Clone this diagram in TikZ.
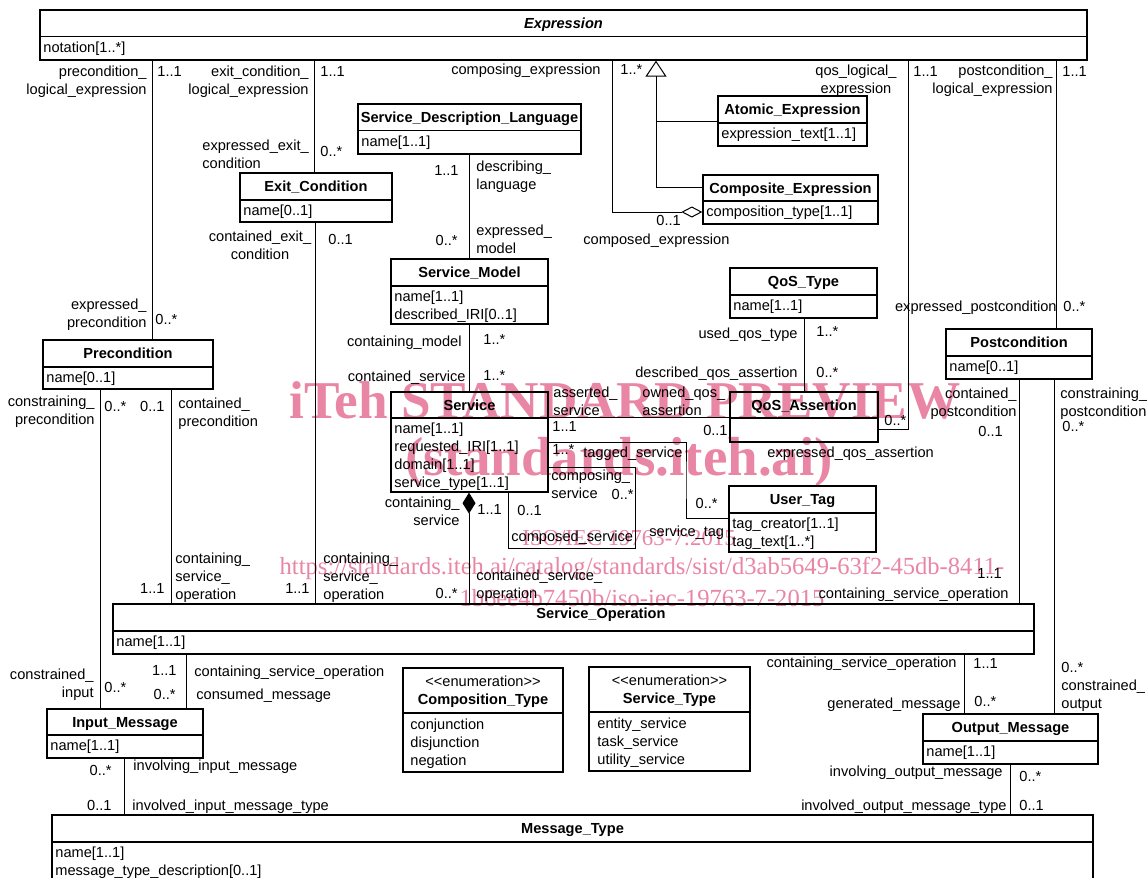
\documentclass[tikz,border=0pt]{standalone}
\usepackage{fontspec}
\setmainfont{Liberation Sans}
\newfontfamily\wmfont{Liberation Serif}
\usetikzlibrary{arrows.meta,fit}
\definecolor{wmpink}{RGB}{233,134,165}

\tikzset{
  cls/.style={draw, inner sep=0pt, line width=0.65pt},
  sep/.style={line width=0.65pt},
  ttl/.style={inner sep=0pt, anchor=base, font=\bfseries},
  att/.style={inner sep=0pt, anchor=north west, align=left},
  lw/.style={inner sep=0pt, anchor=north west, align=left},
  le/.style={inner sep=0pt, anchor=north east, align=right},
  lc/.style={inner sep=0pt, anchor=north, align=center},
  lnk/.style={line width=0.5pt},
  wm/.style={inner sep=0pt, text=wmpink},
}

\begin{document}
\begin{tikzpicture}[x=0.5pt, y=-0.5pt]
\fontsize{7.3}{8.9}\selectfont
\useasboundingbox (0,0) rectangle (1147,878);
\clip (0,0) rectangle (1147,878);
%\draw[help lines] (0,0) grid[step=50] (1147,878);

% watermark
\node[wm, font=\wmfont\bfseries\fontsize{26.6}{30}\selectfont] (wmA) at (625,400) {iTeh STANDARD PREVIEW};
\node[wm, font=\wmfont\bfseries\fontsize{27.5}{30}\selectfont] (wmB) at (619,462) {(standards.iteh.ai)};
\node[wm, font=\wmfont\fontsize{11.4}{13}\selectfont] (wmC) at (629,538) {ISO/IEC 19763-7:2015};
\node[wm, font=\wmfont\fontsize{12.3}{14}\selectfont] (wmD) at (642,568) {https://standards.iteh.ai/catalog/standards/sist/d3ab5649-63f2-45db-8411-};
\node[wm, font=\wmfont\fontsize{12.3}{14}\selectfont] (wmE) at (642,598) {1b6ee4b7450b/iso-iec-19763-7-2015};

% classes
\node[cls, fit={(40,10) (1087,60)}] (expr) {};
\draw[sep] (expr.west |- 0,36.5) -- (expr.east |- 0,36.5);
\node[ttl, font=\bfseries\itshape] (exprT) at (expr.north |- 0,28) {Expression};
\node[att] (exprA) at (43,41.5) {notation[1..*]};

\node[cls, fit={(358,104) (581,154)}] (sdl) {};
\draw[sep] (sdl.west |- 0,130.5) -- (sdl.east |- 0,130.5);
\node[ttl] (sdlT) at (sdl.north |- 0,122) {Service\_Description\_Language};
\node[att] (sdlA) at (361,135.5) {name[1..1]};

\node[cls, fit={(240,173) (392,222)}] (exitc) {};
\draw[sep] (exitc.west |- 0,200) -- (exitc.east |- 0,200);
\node[ttl] (exitcT) at (exitc.north |- 0,191) {Exit\_Condition};
\node[att] (exitcA) at (243,205) {name[0..1]};

\node[cls, fit={(718,96) (867,146)}] (atomic) {};
\draw[sep] (atomic.west |- 0,123) -- (atomic.east |- 0,123);
\node[ttl] (atomicT) at (atomic.north |- 0,114) {Atomic\_Expression};
\node[att] (atomicA) at (721,128) {expression\_text[1..1]};

\node[cls, fit={(703,175) (878,224)}] (compos) {};
\draw[sep] (compos.west |- 0,201) -- (compos.east |- 0,201);
\node[ttl] (composT) at (compos.north |- 0,193) {Composite\_Expression};
\node[att] (composA) at (706,206) {composition\_type[1..1]};

\node[cls, fit={(391,259) (548,324)}] (smodel) {};
\draw[sep] (smodel.west |- 0,286) -- (smodel.east |- 0,286);
\node[ttl] (smodelT) at (smodel.north |- 0,277) {Service\_Model};
\node[att] (smodelA) at (394,291) {name[1..1]\\described\_IRI[0..1]};

\node[cls, fit={(730,268) (877,318)}] (qostype) {};
\draw[sep] (qostype.west |- 0,295) -- (qostype.east |- 0,295);
\node[ttl] (qostypeT) at (qostype.north |- 0,286) {QoS\_Type};
\node[att] (qostypeA) at (733,300) {name[1..1]};

\node[cls, fit={(43,340) (213,389)}] (prec) {};
\draw[sep] (prec.west |- 0,367) -- (prec.east |- 0,367);
\node[ttl] (precT) at (prec.north |- 0,358) {Precondition};
\node[att] (precA) at (46,372) {name[0..1]};

\node[cls, fit={(946,329) (1092,379)}] (postc) {};
\draw[sep] (postc.west |- 0,356) -- (postc.east |- 0,356);
\node[ttl] (postcT) at (postc.north |- 0,347) {Postcondition};
\node[att] (postcA) at (949,361) {name[0..1]};

\node[cls, fit={(391,392) (548,492)}] (serv) {};
\draw[sep] (serv.west |- 0,418) -- (serv.east |- 0,418);
\node[ttl] (servT) at (serv.north |- 0,410) {Service};
\node[att] (servA) at (394,423) {name[1..1]\\requested\_IRI[1..1]\\domain[1..1]\\service\_type[1..1]};

\node[cls, fit={(730,392) (878,442)}] (qosa) {};
\draw[sep] (qosa.west |- 0,418) -- (qosa.east |- 0,418);
\node[ttl] (qosaT) at (qosa.north |- 0,410) {QoS\_Assertion};

\node[cls, fit={(729,486) (876,552)}] (utag) {};
\draw[sep] (utag.west |- 0,513) -- (utag.east |- 0,513);
\node[ttl] (utagT) at (utag.north |- 0,504) {User\_Tag};
\node[att] (utagA) at (732,518) {tag\_creator[1..1]\\tag\_text[1..*]};

\node[cls, fit={(113,604) (1034,654)}] (sop) {};
\draw[sep] (sop.west |- 0,631) -- (sop.east |- 0,631);
\node[ttl] (sopT) at (601,618) {Service\_Operation};
\node[att] (sopA) at (116,636) {name[1..1]};

\node[cls, fit={(47,709) (203,758)}] (inmsg) {};
\draw[sep] (inmsg.west |- 0,735) -- (inmsg.east |- 0,735);
\node[ttl] (inmsgT) at (inmsg.north |- 0,727) {Input\_Message};
\node[att] (inmsgA) at (50,740) {name[1..1]};

\node[cls, fit={(923,714) (1098,764)}] (outmsg) {};
\draw[sep] (outmsg.west |- 0,741) -- (outmsg.east |- 0,741);
\node[ttl] (outmsgT) at (outmsg.north |- 0,732) {Output\_Message};
\node[att] (outmsgA) at (926,746) {name[1..1]};

\node[cls, fit={(52,815) (1093,900)}] (mtype) {};
\draw[sep] (mtype.west |- 0,842) -- (mtype.east |- 0,842);
\node[ttl] (mtypeT) at (mtype.north |- 0,833.5) {Message\_Type};
\node[att] (mtypeA) at (55,847) {name[1..1]\\message\_type\_description[0..1]};

\node[cls, fit={(403,668) (563,772)}] (comptype) {};
\draw[sep] (comptype.west |- 0,713) -- (comptype.east |- 0,713);
\node[lc] (comptypeT) at (comptype.north |- 0,675.5) {<\kern0pt<enumeration>\kern0pt>\\\textbf{Composition\_Type}};
\node[att] (comptypeA) at (410,718.5) {conjunction\\disjunction\\negation};

\node[cls, fit={(589,667) (750,771)}] (servtype) {};
\draw[sep] (servtype.west |- 0,712) -- (servtype.east |- 0,712);
\node[lc] (servtypeT) at (servtype.north |- 0,674.5) {<\kern0pt<enumeration>\kern0pt>\\\textbf{Service\_Type}};
\node[att] (servtypeA) at (597,718) {entity\_service\\task\_service\\utility\_service};

% associations
\draw[lnk] (expr.south -| 152,0) -- (prec.north -| 152,0);
\node[le] (aR1) at (147,66) {precondition\_\\logical\_expression};
\node[lw] (aM1) at (157,66) {1..1};
\node[le] (aR2) at (147,298.5) {expressed\_\\precondition};
\node[lw] (aM2) at (155,314) {0..*};

\draw[lnk] (expr.south -| 314,0) -- (exitc.north -| 314,0);
\node[le] (bR1) at (309,66) {exit\_condition\_\\logical\_expression};
\node[lw] (bM1) at (320,66.5) {1..1};
\node[lw] (bR2) at (202,139.5) {expressed\_exit\_\\condition};
\node[lw] (bM2) at (320,146) {0..*};

\draw[lnk] (exitc.south -| 315,0) -- (sop.north -| 315,0);
\node[lc] (cR1) at (260,230.5) {contained\_exit\_\\condition};
\node[lw] (cM1) at (328,234) {0..1};
\node[lw] (cR2) at (323,553) {containing\_\\service\_\\operation};
\node[le] (cM2) at (310,583) {1..1};

\draw[lnk] (prec.south -| 171,0) -- (sop.north -| 171,0);
\node[le] (dM1) at (165,400.5) {0..1};
\node[lw] (dR1) at (178,398) {contained\_\\precondition};
\node[lw] (dR2) at (175,553) {containing\_\\service\_\\operation};
\node[le] (dM2) at (165,583) {1..1};

\draw[lnk] (prec.south -| 100,0) -- (inmsg.north -| 100,0);
\node[le] (eR1) at (95,396) {constraining\_\\precondition};
\node[lw] (eM1) at (104,400.5) {0..*};
\node[le] (eR2) at (94,669) {constrained\_\\input};
\node[lw] (eM2) at (104,682) {0..*};

\draw[lnk] (sop.south -| 186,0) -- (inmsg.north -| 186,0);
\node[le] (fM1) at (177,665) {1..1};
\node[lw] (fR1) at (194,665.5) {containing\_service\_operation};
\node[le] (fM2) at (176,688.5) {0..*};
\node[lw] (fR2) at (196,688.5) {consumed\_message};

\draw[lnk] (inmsg.south -| 124,0) -- (mtype.north -| 124,0);
\node[le] (gM1) at (112,765) {0..*};
\node[lw] (gR1) at (133,760) {involving\_input\_message};
\node[le] (gM2) at (112,800) {0..1};
\node[lw] (gR2) at (132,800) {involved\_input\_message\_type};

\draw[lnk] (sdl.south -| 469,0) -- (smodel.north -| 469,0);
\node[le] (hM1) at (459,165) {1..1};
\node[lw] (hR1) at (476,161) {describing\_\\language};
\node[le] (hM2) at (458,235) {0..*};
\node[lw] (hR2) at (476,224.5) {expressed\_\\model};

\draw[lnk] (smodel.south -| 469,0) -- (serv.north -| 469,0);
\node[le] (iR1) at (462,335.5) {containing\_model};
\node[lw] (iM1) at (483,334.5) {1..*};
\node[le] (iR2) at (466,371) {contained\_service};
\node[lw] (iM2) at (483,370.5) {1..*};

\draw[lnk, {Diamond[length=10.5pt,width=6.5pt]}-] (serv.south -| 469,0) -- (sop.north -| 469,0);
\node[le] (jR1) at (460,497) {containing\_\\service};
\node[lw] (jM1) at (477,504.5) {1..1};
\node[le] (jM2) at (458,588) {0..*};
\node[lw] (jR2) at (476,569.5) {contained\_service\_\\operation};

\draw[lnk, -{Diamond[open,length=10.5pt,width=5.5pt]}] (expr.south -| 612,0) |- (compos.west |- 0,212);
\node[le] (kR1) at (601,64) {composing\_expression};
\node[lw] (kM1) at (620,64.5) {1..*};
\node[lw] (kM2) at (656,214.5) {0..1};
\node[lw] (kR2) at (583,234) {composed\_expression};

% generalization
\draw[lnk, -{Triangle[open,length=8pt,width=10.5pt]}] (compos.west |- 0,187) -| (expr.south -| 656,0);
\coordinate (genJ) at (656,121);
\draw[lnk] (atomic.west |- 0,121) -- (genJ);

\draw[lnk] (expr.south -| 908,0) |- (qosa.east |- 0,429);
\node[lc] (mR1) at (856,64.5) {qos\_logical\_\\expression};
\node[lw] (mM1) at (913,66) {1..1};
\node[lw] (mM2) at (884,414.5) {0..*};
\node[lw] (mR2) at (767,447) {expressed\_qos\_assertion};

\draw[lnk] (qostype.south -| 804,0) -- (qosa.north -| 804,0);
\node[le] (nR1) at (798,328) {used\_qos\_type};
\node[lw] (nM1) at (816,326) {1..*};
\node[le] (nR2) at (798,367) {described\_qos\_assertion};
\node[lw] (nM2) at (816,367) {0..*};

\draw[lnk] (serv.east |- 0,417) -- (qosa.west |- 0,417);
\node[lw] (oR1) at (553,387) {asserted\_\\service};
\node[lw] (oM1) at (552,421) {1..1};
\node[lw] (oR2) at (642,387) {owned\_qos\_\\assertion};
\node[le] (oM2) at (728,425) {0..1};

\draw[lnk] (serv.east |- 0,442) -| (686,480) |- (utag.west |- 0,518);
\node[lw] (pM1) at (552,444.5) {1..*};
\node[lw] (pR1) at (583,447) {tagged\_service};
\node[le] (pM2) at (718,498) {0..*};
\node[lw] (pR2) at (649,526) {service\_tag};

\draw[lnk] (serv.east |- 0,467) -- (635,467) -- (635,548) -- (508,548) -- (serv.south -| 508,0);
\node[lw] (qR1) at (551,469.5) {composing\_\\service};
\node[le] (qM1) at (634,489) {0..*};
\node[lw] (qM2) at (517,504.5) {0..1};
\node[lw] (qR2) at (511,531) {composed\_service};

\draw[lnk] (expr.south -| 1056,0) -- (postc.north -| 1056,0);
\node[le] (rR1) at (1053,64.5) {postcondition\_\\logical\_expression};
\node[lw] (rM1) at (1062,66) {1..1};
\node[le] (rR2) at (1057,300.5) {expressed\_postcondition};
\node[lw] (rM2) at (1063,300.5) {0..*};

\draw[lnk] (postc.south -| 1019,0) -- (sop.north -| 1019,0);
\node[le] (sR1) at (1017,388) {contained\_\\postcondition};
\node[lw] (sM1) at (978,426) {0..1};
\node[lw] (sM2) at (977,568) {1..1};
\node[le] (sR2) at (1009,588) {containing\_service\_operation};

\draw[lnk] (postc.south -| 1054,0) -- (outmsg.north -| 1054,0);
\node[lw] (tR1) at (1060,388) {constraining\_\\postcondition};
\node[lw] (tM1) at (1062,421) {0..*};
\node[lw] (tM2) at (1061,662) {0..*};
\node[lw] (tR2) at (1061,680) {constrained\_\\output};

\draw[lnk] (sop.south -| 964,0) -- (outmsg.north -| 964,0);
\node[le] (uR1) at (957,657) {containing\_service\_operation};
\node[lw] (uM1) at (973,658) {1..1};
\node[le] (uR2) at (961,698) {generated\_message};
\node[lw] (uM2) at (974,696) {0..*};

\draw[lnk] (outmsg.south -| 1010,0) -- (mtype.north -| 1010,0);
\node[le] (vR1) at (1003,766) {involving\_output\_message};
\node[lw] (vM1) at (1019,771) {0..*};
\node[le] (vR2) at (1007,800) {involved\_output\_message\_type};
\node[lw] (vM2) at (1019,800) {0..1};
\end{tikzpicture}
\end{document}
